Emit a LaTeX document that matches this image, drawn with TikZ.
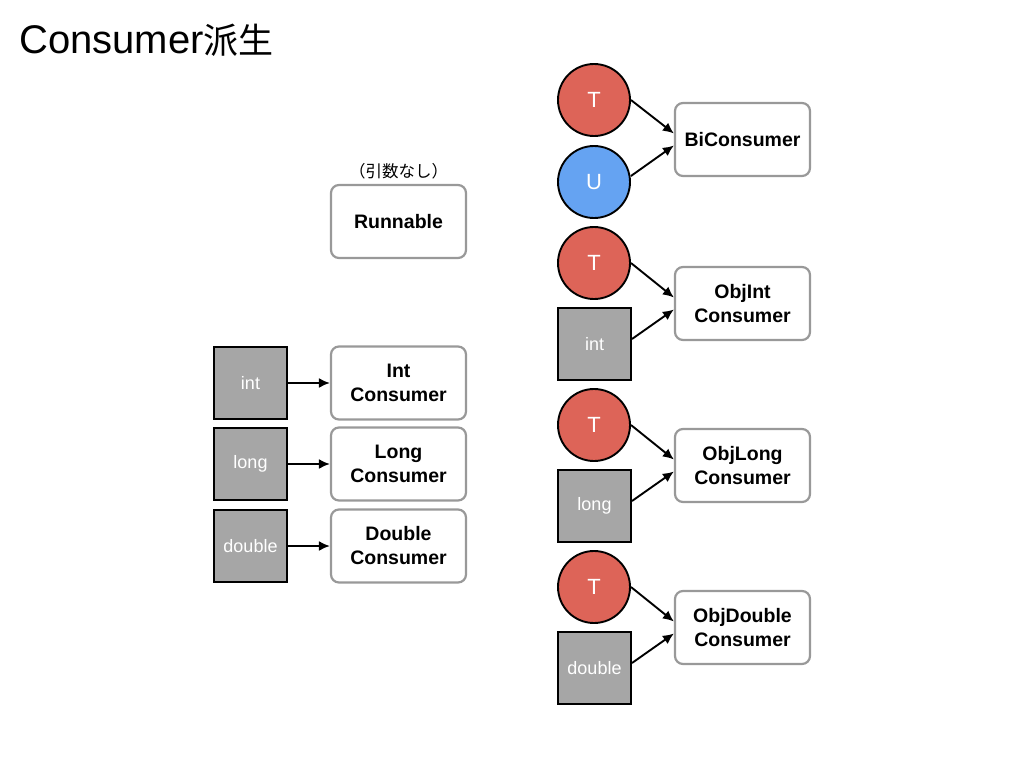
\documentclass[tikz,border=0pt]{standalone}
\usepackage{fontspec}
\setmainfont{Liberation Sans}
\newfontfamily\cjk{Noto Sans CJK JP}
\usetikzlibrary{arrows.meta}
\definecolor{tred}{HTML}{DD6458}
\definecolor{ublue}{HTML}{65A3F2}
\definecolor{pgray}{HTML}{A6A6A6}
\definecolor{bgray}{HTML}{999999}
\tikzset{
  cbox/.style={draw=bgray, line width=2.2pt, rounded corners=8pt, fill=white,
    minimum width=135pt, minimum height=73pt, align=center, inner sep=0pt,
    font=\fontsize{19.5}{24}\selectfont\bfseries},
  prim/.style={draw=black, line width=2pt, fill=pgray, minimum width=73pt,
    minimum height=72pt, inner sep=0pt, text=white, font=\fontsize{18}{20}\selectfont},
  tcirc/.style={circle, draw=black, line width=1.9pt, fill=tred, minimum size=72pt,
    inner sep=0pt, text=white, font=\fontsize{22}{24}\selectfont},
  ucirc/.style={tcirc, fill=ublue},
  arr/.style={line width=1.9pt, -{Latex[length=11pt,width=10pt]}}
}
\begin{document}
\begin{tikzpicture}[x=1pt,y=-1pt]
\useasboundingbox (0,0) rectangle (1024,768);
\node[anchor=base west, inner sep=0pt, font=\fontsize{40}{42}\selectfont] (title) at (19,53) {Consumer{\cjk\fontsize{35}{40}\selectfont 派生}};

% left column
\node[cbox] (run) at (398.5,221.5) {Runnable};
\node[inner sep=0pt, font=\cjk\fontsize{16.5}{18}\selectfont] (noarg) at (398.5,171) {（引数なし）};

\node[prim] (gint) at (250.5,383) {int};
\node[prim] (glong) at (250.5,464) {long};
\node[prim] (gdouble) at (250.5,546) {double};
\node[cbox] (ic) at (398.5,383) {Int\\Consumer};
\node[cbox] (lc) at (398.5,464) {Long\\Consumer};
\node[cbox] (dc) at (398.5,546) {Double\\Consumer};
\draw[arr] (gint.east) -- (ic.west);
\draw[arr] (glong.east) -- (lc.west);
\draw[arr] (gdouble.east) -- (dc.west);

% right column
\node[tcirc] (t1) at (594,100) {T};
\node[ucirc] (u1) at (594,182) {U};
\node[cbox] (bi) at (742.5,139.5) {BiConsumer};
\draw[arr] (t1.east) -- ([yshift=6pt]bi.west);
\draw[arr] ([yshift=6pt]u1.east) -- ([yshift=-6pt]bi.west);

\node[tcirc] (t2) at (594,263) {T};
\node[prim] (gi2) at (594.5,344) {int};
\node[cbox] (oi) at (742.5,303.5) {ObjInt\\Consumer};
\draw[arr] (t2.east) -- ([yshift=6pt]oi.west);
\draw[arr] ([yshift=5pt]gi2.east) -- ([yshift=-6pt]oi.west);

\node[tcirc] (t3) at (594,425) {T};
\node[prim] (gl3) at (594.5,506) {long};
\node[cbox] (ol) at (742.5,465.5) {ObjLong\\Consumer};
\draw[arr] (t3.east) -- ([yshift=6pt]ol.west);
\draw[arr] ([yshift=5pt]gl3.east) -- ([yshift=-6pt]ol.west);

\node[tcirc] (t4) at (594,587) {T};
\node[prim] (gd4) at (594.5,668) {double};
\node[cbox] (od) at (742.5,627.5) {ObjDouble\\Consumer};
\draw[arr] (t4.east) -- ([yshift=6pt]od.west);
\draw[arr] ([yshift=5pt]gd4.east) -- ([yshift=-6pt]od.west);
\end{tikzpicture}
\end{document}
